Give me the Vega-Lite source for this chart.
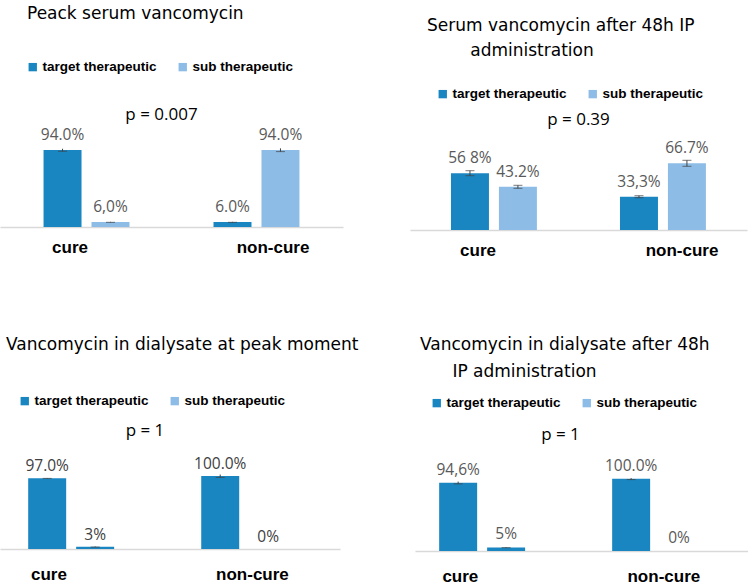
{
  "$schema": "https://vega.github.io/schema/vega-lite/v6.json",
  "padding": {"left": 0, "top": 5, "right": 0, "bottom": 0},
  "background": "white",
  "datasets": {
    "bars": [
      {"panel": 1, "group": "cure", "series": "target therapeutic", "value": 94.0, "lo": 92.5, "hi": 95.5, "label": "94.0%"},
      {"panel": 1, "group": "cure", "series": "sub therapeutic", "value": 6.0, "lo": 5.7, "hi": 6.3, "label": "6,0%"},
      {"panel": 1, "group": "non-cure", "series": "target therapeutic", "value": 6.0, "lo": 5.7, "hi": 6.3, "label": "6.0%"},
      {"panel": 1, "group": "non-cure", "series": "sub therapeutic", "value": 94.0, "lo": 92.0, "hi": 96.0, "label": "94.0%"},
      {"panel": 2, "group": "cure", "series": "target therapeutic", "value": 56.8, "lo": 54.3, "hi": 59.3, "label": "56 8%"},
      {"panel": 2, "group": "cure", "series": "sub therapeutic", "value": 43.2, "lo": 41.7, "hi": 44.7, "label": "43.2%"},
      {"panel": 2, "group": "non-cure", "series": "target therapeutic", "value": 33.3, "lo": 32.3, "hi": 34.3, "label": "33,3%"},
      {"panel": 2, "group": "non-cure", "series": "sub therapeutic", "value": 66.7, "lo": 63.7, "hi": 69.7, "label": "66.7%"},
      {"panel": 3, "group": "cure", "series": "target therapeutic", "value": 97.0, "lo": 96.7, "hi": 97.3, "label": "97.0%"},
      {"panel": 3, "group": "cure", "series": "sub therapeutic", "value": 3.0, "lo": 2.6, "hi": 3.4, "label": "3%"},
      {"panel": 3, "group": "non-cure", "series": "target therapeutic", "value": 100.0, "lo": 98.0, "hi": 102.0, "label": "100.0%"},
      {"panel": 3, "group": "non-cure", "series": "sub therapeutic", "value": 0.0, "lo": null, "hi": null, "label": "0%"},
      {"panel": 4, "group": "cure", "series": "target therapeutic", "value": 94.6, "lo": 93.0, "hi": 96.2, "label": "94,6%"},
      {"panel": 4, "group": "cure", "series": "sub therapeutic", "value": 5.0, "lo": 4.6, "hi": 5.4, "label": "5%"},
      {"panel": 4, "group": "non-cure", "series": "target therapeutic", "value": 100.0, "lo": 99.0, "hi": 101.0, "label": "100.0%"},
      {"panel": 4, "group": "non-cure", "series": "sub therapeutic", "value": 0.0, "lo": null, "hi": null, "label": "0%"}
    ],
    "pvals": [
      {"panel": 1, "p": "p = 0.007"},
      {"panel": 2, "p": "p = 0.39"},
      {"panel": 3, "p": "p = 1"},
      {"panel": 4, "p": "p = 1"}
    ]
  },
  "resolve": {"scale": {"color": "independent"}, "legend": {"color": "independent"}},
  "spacing": 78,
  "vconcat": [
    {
      "spacing": 67,
      "resolve": {"scale": {"color": "independent"}, "legend": {"color": "independent"}},
      "hconcat": [
        {
          "width": 343,
          "height": 127,
          "title": {"text": "Peack serum vancomycin", "anchor": "start", "frame": "group", "dx": 27, "offset": 37},
          "layer": [
            {
              "data": {"name": "bars"},
              "transform": [{"filter": "datum.panel == 1"}],
              "mark": {"type": "bar"},
              "encoding": {
                "x": {"field": "group", "type": "nominal", "sort": ["cure", "non-cure"], "scale": {"paddingInner": 0.412, "paddingOuter": 0.215},
                  "axis": {"title": null, "labelPadding": 12, "labelOffset": {"condition": {"test": "datum.value == 'cure'", "value": -16.5}, "value": 16.5}}},
                "xOffset": {"field": "series", "type": "nominal", "sort": ["target therapeutic", "sub therapeutic"], "scale": {"paddingInner": 0.208, "paddingOuter": 0.146}},
                "y": {"field": "value", "type": "quantitative", "scale": {"domain": [0, 155], "nice": false}, "axis": null},
                "color": {"field": "series", "type": "nominal", "sort": ["target therapeutic", "sub therapeutic"], "scale": {"domain": ["target therapeutic", "sub therapeutic"], "range": ["#1a86c1", "#8dbde6"]}, "legend": {"title": null, "orient": "none", "legendX": 26, "legendY": -40}}
              }
            },
            {
              "data": {"name": "bars"},
              "transform": [{"filter": "datum.panel == 1"}],
              "mark": {"type": "rule", "color": "#404040"},
              "encoding": {
                "x": {"field": "group", "type": "nominal", "sort": ["cure", "non-cure"]},
                "xOffset": {"field": "series", "type": "nominal", "sort": ["target therapeutic", "sub therapeutic"]},
                "y": {"field": "lo", "type": "quantitative"},
                "y2": {"field": "hi"}
              }
            },
            {
              "data": {"name": "bars"},
              "transform": [{"filter": "datum.panel == 1"}],
              "mark": {"type": "tick", "color": "#404040", "size": 9, "thickness": 1},
              "encoding": {
                "x": {"field": "group", "type": "nominal", "sort": ["cure", "non-cure"]},
                "xOffset": {"field": "series", "type": "nominal", "sort": ["target therapeutic", "sub therapeutic"]},
                "y": {"field": "lo", "type": "quantitative"}
              }
            },
            {
              "data": {"name": "bars"},
              "transform": [{"filter": "datum.panel == 1"}],
              "mark": {"type": "text", "font": "Open Sans", "fontSize": 15.5, "color": "#595959", "baseline": "alphabetic", "dy": -10},
              "encoding": {
                "x": {"field": "group", "type": "nominal", "sort": ["cure", "non-cure"]},
                "xOffset": {"field": "series", "type": "nominal", "sort": ["target therapeutic", "sub therapeutic"]},
                "y": {"field": "value", "type": "quantitative"},
                "text": {"field": "label"}
              }
            },
            {
              "data": {"name": "pvals"},
              "transform": [{"filter": "datum.panel == 1"}],
              "mark": {"type": "text", "font": "Open Sans", "fontSize": 17, "color": "black", "dx": -10},
              "encoding": {
                "y": {"datum": 137, "type": "quantitative"},
                "text": {"field": "p"}
              }
            }
          ]
        },
        {
          "width": 337,
          "height": 130,
          "title": {"text": ["Serum vancomycin after 48h IP", "\u200b\u00a0\u00a0\u00a0\u00a0\u00a0\u00a0\u00a0\u00a0administration"], "anchor": "start", "frame": "group", "dx": 17, "offset": 27, "lineHeight": 25},
          "layer": [
            {
              "data": {"name": "bars"},
              "transform": [{"filter": "datum.panel == 2"}],
              "mark": {"type": "bar"},
              "encoding": {
                "x": {"field": "group", "type": "nominal", "sort": ["cure", "non-cure"], "scale": {"paddingInner": 0.408, "paddingOuter": 0.201},
                  "axis": {"title": null, "labelPadding": 12, "labelOffset": {"condition": {"test": "datum.value == 'cure'", "value": -16}, "value": 19}}},
                "xOffset": {"field": "series", "type": "nominal", "sort": ["target therapeutic", "sub therapeutic"], "scale": {"paddingInner": 0.208, "paddingOuter": 0.146}},
                "y": {"field": "value", "type": "quantitative", "scale": {"domain": [0, 130], "nice": false}, "axis": null},
                "color": {"field": "series", "type": "nominal", "sort": ["target therapeutic", "sub therapeutic"], "scale": {"domain": ["target therapeutic", "sub therapeutic"], "range": ["#1a86c1", "#8dbde6"]}, "legend": {"title": null, "orient": "none", "legendX": 26, "legendY": -13}}
              }
            },
            {
              "data": {"name": "bars"},
              "transform": [{"filter": "datum.panel == 2"}],
              "mark": {"type": "rule", "color": "#404040"},
              "encoding": {
                "x": {"field": "group", "type": "nominal", "sort": ["cure", "non-cure"]},
                "xOffset": {"field": "series", "type": "nominal", "sort": ["target therapeutic", "sub therapeutic"]},
                "y": {"field": "lo", "type": "quantitative"},
                "y2": {"field": "hi"}
              }
            },
            {
              "data": {"name": "bars"},
              "transform": [{"filter": "datum.panel == 2"}],
              "mark": {"type": "tick", "color": "#404040", "size": 9, "thickness": 1},
              "encoding": {
                "x": {"field": "group", "type": "nominal", "sort": ["cure", "non-cure"]},
                "xOffset": {"field": "series", "type": "nominal", "sort": ["target therapeutic", "sub therapeutic"]},
                "y": {"field": "lo", "type": "quantitative"}
              }
            },
            {
              "data": {"name": "bars"},
              "transform": [{"filter": "datum.panel == 2"}],
              "mark": {"type": "tick", "color": "#404040", "size": 9, "thickness": 1},
              "encoding": {
                "x": {"field": "group", "type": "nominal", "sort": ["cure", "non-cure"]},
                "xOffset": {"field": "series", "type": "nominal", "sort": ["target therapeutic", "sub therapeutic"]},
                "y": {"field": "hi", "type": "quantitative"}
              }
            },
            {
              "data": {"name": "bars"},
              "transform": [{"filter": "datum.panel == 2"}],
              "mark": {"type": "text", "font": "Open Sans", "fontSize": 15.5, "color": "#595959", "baseline": "alphabetic", "dy": -10},
              "encoding": {
                "x": {"field": "group", "type": "nominal", "sort": ["cure", "non-cure"]},
                "xOffset": {"field": "series", "type": "nominal", "sort": ["target therapeutic", "sub therapeutic"]},
                "y": {"field": "value", "type": "quantitative"},
                "text": {"field": "label"}
              }
            },
            {
              "data": {"name": "pvals"},
              "transform": [{"filter": "datum.panel == 2"}],
              "mark": {"type": "text", "font": "Open Sans", "fontSize": 17, "color": "black"},
              "encoding": {
                "y": {"datum": 110, "type": "quantitative"},
                "text": {"field": "p"}
              }
            }
          ]
        }
      ]
    },
    {
      "spacing": 56,
      "resolve": {"scale": {"color": "independent"}, "legend": {"color": "independent"}},
      "hconcat": [
        {
          "width": 340,
          "height": 138,
          "title": {"text": "Vancomycin in dialysate at peak moment", "anchor": "start", "frame": "group", "dx": 6, "offset": 40},
          "layer": [
            {
              "data": {"name": "bars"},
              "transform": [{"filter": "datum.panel == 3"}],
              "mark": {"type": "bar"},
              "encoding": {
                "x": {"field": "group", "type": "nominal", "sort": ["cure", "non-cure"], "scale": {"paddingInner": 0.385, "paddingOuter": 0.175, "align": 0.35},
                  "axis": {"title": null, "labelPadding": 17.5, "labelOffset": {"condition": {"test": "datum.value == 'cure'", "value": -25.5}, "value": 5}}},
                "xOffset": {"field": "series", "type": "nominal", "sort": ["target therapeutic", "sub therapeutic"], "scale": {"paddingInner": 0.333, "paddingOuter": 0.1}},
                "y": {"field": "value", "type": "quantitative", "scale": {"domain": [0, 189], "nice": false}, "axis": null},
                "color": {"condition": {"test": "datum.series == 'sub therapeutic' && datum.value > 0", "value": "#1a86c1"}, "field": "series", "type": "nominal", "sort": ["target therapeutic", "sub therapeutic"], "scale": {"domain": ["target therapeutic", "sub therapeutic"], "range": ["#1a86c1", "#8dbde6"]}, "legend": {"title": null, "orient": "none", "legendX": 18, "legendY": -17}}
              }
            },
            {
              "data": {"name": "bars"},
              "transform": [{"filter": "datum.panel == 3"}],
              "mark": {"type": "rule", "color": "#404040"},
              "encoding": {
                "x": {"field": "group", "type": "nominal", "sort": ["cure", "non-cure"]},
                "xOffset": {"field": "series", "type": "nominal", "sort": ["target therapeutic", "sub therapeutic"]},
                "y": {"field": "lo", "type": "quantitative"},
                "y2": {"field": "hi"}
              }
            },
            {
              "data": {"name": "bars"},
              "transform": [{"filter": "datum.panel == 3"}],
              "mark": {"type": "tick", "color": "#404040", "size": 9, "thickness": 1},
              "encoding": {
                "x": {"field": "group", "type": "nominal", "sort": ["cure", "non-cure"]},
                "xOffset": {"field": "series", "type": "nominal", "sort": ["target therapeutic", "sub therapeutic"]},
                "y": {"field": "lo", "type": "quantitative"}
              }
            },
            {
              "data": {"name": "bars"},
              "transform": [{"filter": "datum.panel == 3"}],
              "mark": {"type": "text", "font": "Open Sans", "fontSize": 15.5, "color": "#404040", "baseline": "alphabetic", "dy": -7},
              "encoding": {
                "x": {"field": "group", "type": "nominal", "sort": ["cure", "non-cure"]},
                "xOffset": {"field": "series", "type": "nominal", "sort": ["target therapeutic", "sub therapeutic"]},
                "y": {"field": "value", "type": "quantitative"},
                "text": {"field": "label"}
              }
            },
            {
              "data": {"name": "pvals"},
              "transform": [{"filter": "datum.panel == 3"}],
              "mark": {"type": "text", "font": "Open Sans", "fontSize": 17, "color": "black", "dx": -25},
              "encoding": {
                "y": {"datum": 161, "type": "quantitative"},
                "text": {"field": "p"}
              }
            }
          ]
        },
        {
          "width": 333,
          "height": 140,
          "title": {"text": ["Vancomycin in dialysate after 48h", "\u200b\u00a0\u00a0\u00a0\u00a0\u00a0\u00a0IP administration"], "anchor": "start", "frame": "group", "dx": 5, "offset": 15, "lineHeight": 27},
          "layer": [
            {
              "data": {"name": "bars"},
              "transform": [{"filter": "datum.panel == 4"}],
              "mark": {"type": "bar"},
              "encoding": {
                "x": {"field": "group", "type": "nominal", "sort": ["cure", "non-cure"], "scale": {"paddingInner": 0.385, "paddingOuter": 0.155, "align": 0.32},
                  "axis": {"title": null, "labelPadding": 17.5, "labelOffset": {"condition": {"test": "datum.value == 'cure'", "value": -25}, "value": 5.5}}},
                "xOffset": {"field": "series", "type": "nominal", "sort": ["target therapeutic", "sub therapeutic"], "scale": {"paddingInner": 0.333, "paddingOuter": 0.1}},
                "y": {"field": "value", "type": "quantitative", "scale": {"domain": [0, 194], "nice": false}, "axis": null},
                "color": {"condition": {"test": "datum.series == 'sub therapeutic' && datum.value > 0", "value": "#1a86c1"}, "field": "series", "type": "nominal", "sort": ["target therapeutic", "sub therapeutic"], "scale": {"domain": ["target therapeutic", "sub therapeutic"], "range": ["#1a86c1", "#8dbde6"]}, "legend": {"title": null, "orient": "none", "legendX": 15, "legendY": -15}}
              }
            },
            {
              "data": {"name": "bars"},
              "transform": [{"filter": "datum.panel == 4"}],
              "mark": {"type": "rule", "color": "#404040"},
              "encoding": {
                "x": {"field": "group", "type": "nominal", "sort": ["cure", "non-cure"]},
                "xOffset": {"field": "series", "type": "nominal", "sort": ["target therapeutic", "sub therapeutic"]},
                "y": {"field": "lo", "type": "quantitative"},
                "y2": {"field": "hi"}
              }
            },
            {
              "data": {"name": "bars"},
              "transform": [{"filter": "datum.panel == 4"}],
              "mark": {"type": "tick", "color": "#404040", "size": 9, "thickness": 1},
              "encoding": {
                "x": {"field": "group", "type": "nominal", "sort": ["cure", "non-cure"]},
                "xOffset": {"field": "series", "type": "nominal", "sort": ["target therapeutic", "sub therapeutic"]},
                "y": {"field": "lo", "type": "quantitative"}
              }
            },
            {
              "data": {"name": "bars"},
              "transform": [{"filter": "datum.panel == 4"}],
              "mark": {"type": "text", "font": "Open Sans", "fontSize": 15.5, "color": "#595959", "baseline": "alphabetic", "dy": -8},
              "encoding": {
                "x": {"field": "group", "type": "nominal", "sort": ["cure", "non-cure"]},
                "xOffset": {"field": "series", "type": "nominal", "sort": ["target therapeutic", "sub therapeutic"]},
                "y": {"field": "value", "type": "quantitative"},
                "text": {"field": "label"}
              }
            },
            {
              "data": {"name": "pvals"},
              "transform": [{"filter": "datum.panel == 4"}],
              "mark": {"type": "text", "font": "Open Sans", "fontSize": 17, "color": "black", "dx": -21},
              "encoding": {
                "y": {"datum": 161, "type": "quantitative"},
                "text": {"field": "p"}
              }
            }
          ]
        }
      ]
    }
  ],
  "config": {
    "view": {"stroke": null},
    "title": {"font": "DejaVu Sans", "fontSize": 17, "fontWeight": "normal", "color": "black"},
    "axisX": {
      "ticks": false,
      "grid": false,
      "domainColor": "#d9d9d9",
      "domainWidth": 1.5,
      "labelAngle": 0,
      "labelFont": "Liberation Sans",
      "labelFontWeight": "bold",
      "labelFontSize": 17,
      "labelColor": "black"
    },
    "legend": {
      "direction": "horizontal",
      "symbolType": "square",
      "symbolSize": 70,
      "symbolStrokeWidth": 0,
      "labelFont": "Liberation Sans",
      "labelFontWeight": "bold",
      "labelFontSize": 13.5,
      "labelColor": "black",
      "labelOffset": 3,
      "columnPadding": 19
    }
  }
}
